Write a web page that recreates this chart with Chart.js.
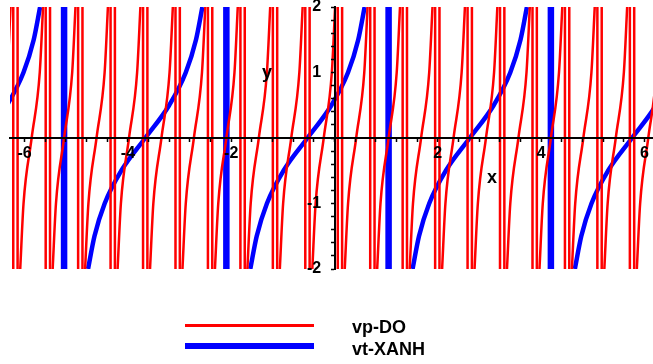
<!DOCTYPE html>
<html>
<head>
<meta charset="utf-8">
<script src="https://cdn.jsdelivr.net/npm/chart.js@4.4.0/dist/chart.umd.min.js"></script>
<style>
  body { margin: 0; background: #fff; }
  #wrap { position: relative; width: 653px; height: 364px; overflow: hidden; background: #fff; }
  #plot { position: absolute; left: 0; top: 0; }
  .txt { position: absolute; font-family: 'Liberation Sans', Arial, sans-serif; font-weight: bold; color: #000; white-space: nowrap; }
  .key { position: absolute; left: 185px; width: 129px; }
</style>
</head>
<body>
<div id="wrap">
  <canvas id="plot" width="653" height="364"></canvas>
  <div class="txt" style="left:487px; top:168px; font-size:18px; line-height:18px;">x</div>
  <div class="txt" style="left:262px; top:63px; font-size:18px; line-height:18px;">y</div>
  <div class="key" style="top:324px; height:3px; background:#ff0000;"></div>
  <div class="key" style="top:343px; height:6px; background:#0000ff;"></div>
  <div class="txt" style="left:352px; top:318px; font-size:18px; line-height:18px;">vp-DO</div>
  <div class="txt" style="left:352px; top:340px; font-size:18px; line-height:18px;">vt-XANH</div>
</div>
<script>
// red curve (vp): x where each branch passes y = -2, -1, 0, 1, 2
const redLevels = [-2, -1, 0, 1, 2];
const redXm2 = [-6.714, -6.085, -5.457, -4.829, -4.200, -3.572, -2.944, -2.315, -1.687, -1.059, -0.430, 0.198, 0.826, 1.455, 2.083, 2.711, 3.339, 3.968, 4.596, 5.224, 5.853];
const redXm1 = [-6.650, -6.021, -5.393, -4.765, -4.136, -3.508, -2.880, -2.251, -1.623, -0.995, -0.366, 0.262, 0.890, 1.519, 2.147, 2.775, 3.403, 4.032, 4.660, 5.288, 5.917];
const redX0  = [-6.493, -5.864, -5.236, -4.608, -3.979, -3.351, -2.723, -2.094, -1.466, -0.838, -0.209, 0.419, 1.047, 1.676, 2.304, 2.932, 3.560, 4.189, 4.817, 5.445, 6.074];
const redXp1 = [-6.336, -5.707, -5.079, -4.451, -3.822, -3.194, -2.566, -1.937, -1.309, -0.681, -0.052, 0.576, 1.204, 1.833, 2.461, 3.089, 3.717, 4.346, 4.974, 5.602, 6.231];
const redXp2 = [-6.272, -5.643, -5.015, -4.387, -3.758, -3.130, -2.502, -1.873, -1.245, -0.617, 0.012, 0.640, 1.268, 1.897, 2.525, 3.153, 3.781, 4.410, 5.038, 5.666, 6.295];
// red jumps: each pole shows as two vertical lines
const redJumpX = [
  -6.220, -6.136, -5.592, -5.508, -4.964, -4.880, -4.336, -4.252, -3.707, -3.623,
  -3.079, -2.995, -2.451, -2.367, -1.822, -1.738, -1.194, -1.110, -0.566, -0.482,
  0.063, 0.147, 0.691, 0.775, 1.319, 1.403, 1.948, 2.032, 2.576, 2.660,
  3.204, 3.288, 3.833, 3.917, 4.461, 4.545, 5.089, 5.173, 5.718, 5.802
];

// blue curve (vt): x of each branch at y = -2 ... 2
const blueLevels = [-2, -1.5, -1, -0.5, 0, 0.5, 1, 1.5, 2];
const blueBranches = [
  [-7.914, -7.790, -7.592, -7.271, -6.807, -6.343, -6.022, -5.824, -5.700],
  [-4.772, -4.648, -4.450, -4.129, -3.665, -3.201, -2.880, -2.682, -2.558],
  [-1.631, -1.507, -1.309, -0.988, -0.524, -0.060, 0.261, 0.459, 0.583],
  [1.511, 1.635, 1.833, 2.154, 2.618, 3.082, 3.403, 3.601, 3.725],
  [4.653, 4.777, 4.975, 5.296, 5.760, 6.224, 6.545, 6.743, 6.867]
];
const blueJumpX = [-5.236, -2.094, 1.047, 4.189];

const xTickMarks = [-6, -5.6, -5.2, -4.8, -4.4, -4, -3.6, -3.2, -2.8, -2.4, -2, -1.6, -1.2, -0.8, -0.4, 0,
  0.4, 0.8, 1.2, 1.6, 2, 2.4, 2.8, 3.2, 3.6, 4, 4.4, 4.8, 5.2, 5.6, 6];
const yTickMarks = [-2, -1.8, -1.6, -1.4, -1.2, -1, -0.8, -0.6, -0.4, -0.2, 0, 0.2, 0.4, 0.6, 0.8, 1, 1.2, 1.4, 1.6, 1.8, 2];
const xLabels = [-6, -4, -2, 2, 4, 6];
const yLabels = [-2, -1, 1, 2];

const redCurve = [];
const redXs = [redXm2, redXm1, redX0, redXp1, redXp2];
redX0.forEach((_, i) => {
  redLevels.forEach((y, j) => redCurve.push({x: redXs[j][i], y: y}));
  redCurve.push({x: redXp2[i], y: null});
});

function verticalLines(xs) {
  const pts = [];
  xs.forEach(x => {
    pts.push({x: x, y: 2.05});
    pts.push({x: x, y: -2.05});
    pts.push({x: x, y: null});
  });
  return pts;
}

const blueCurve = [];
blueBranches.forEach(b => {
  b.forEach((x, j) => blueCurve.push({x: x, y: blueLevels[j]}));
  blueCurve.push({x: b[b.length - 1], y: null});
});

const tickFont = {family: "'Liberation Sans', Arial, sans-serif", size: 16, weight: 'bold'};

function pickLabel(list, tail) {
  return v => {
    const r = Math.round(v * 10) / 10;
    return list.includes(r) ? String(r) + tail : '';
  };
}

function noEndPadding(s) {
  s.paddingTop = 0;
  s.paddingBottom = 0;
  s.paddingLeft = 0;
  s.paddingRight = 0;
}

new Chart(document.getElementById('plot'), {
  type: 'line',
  data: {
    datasets: [
      {label: 'vp-DO', data: redCurve, borderColor: '#ff0000', borderWidth: 2.5, cubicInterpolationMode: 'monotone'},
      {label: 'vp-DO', data: verticalLines(redJumpX), borderColor: '#ff0000', borderWidth: 2.5, tension: 0},
      {label: 'vt-XANH', data: blueCurve, borderColor: '#0000ff', borderWidth: 4.5, cubicInterpolationMode: 'monotone'},
      {label: 'vt-XANH', data: verticalLines(blueJumpX), borderColor: '#0000ff', borderWidth: 6.5, tension: 0}
    ]
  },
  options: {
    responsive: false,
    animation: false,
    devicePixelRatio: 1,
    spanGaps: false,
    elements: {point: {radius: 0}},
    layout: {padding: {left: 10, top: 7, right: 0, bottom: 95}},
    plugins: {legend: {display: false}, tooltip: {enabled: false}},
    scales: {
      x: {
        type: 'linear',
        min: -6.283,
        max: 6.166,
        bounds: 'data',
        position: {y: 0},
        afterBuildTicks: s => { s.ticks = xTickMarks.map(v => ({value: v})); },
        afterFit: noEndPadding,
        grid: {z: 1, drawOnChartArea: false, drawTicks: true, tickLength: 3, tickWidth: 1.5, tickColor: '#000'},
        border: {z: 1, display: true, color: '#000', width: 2},
        ticks: {z: 1, autoSkip: false, maxRotation: 0, padding: 3, color: '#000', font: tickFont, callback: pickLabel(xLabels, '')}
      },
      y: {
        type: 'linear',
        min: -2,
        max: 2,
        bounds: 'data',
        position: {x: 0},
        afterBuildTicks: s => { s.ticks = yTickMarks.map(v => ({value: v})); },
        afterFit: noEndPadding,
        grid: {z: 1, drawOnChartArea: false, drawTicks: true, tickLength: 3, tickWidth: 1.5, tickColor: '#000'},
        border: {z: 1, display: true, color: '#000', width: 2},
        ticks: {z: 1, autoSkip: false, padding: 9, color: '#000', font: tickFont, callback: pickLabel(yLabels, '   ')}
      }
    }
  }
});
</script>
</body>
</html>
